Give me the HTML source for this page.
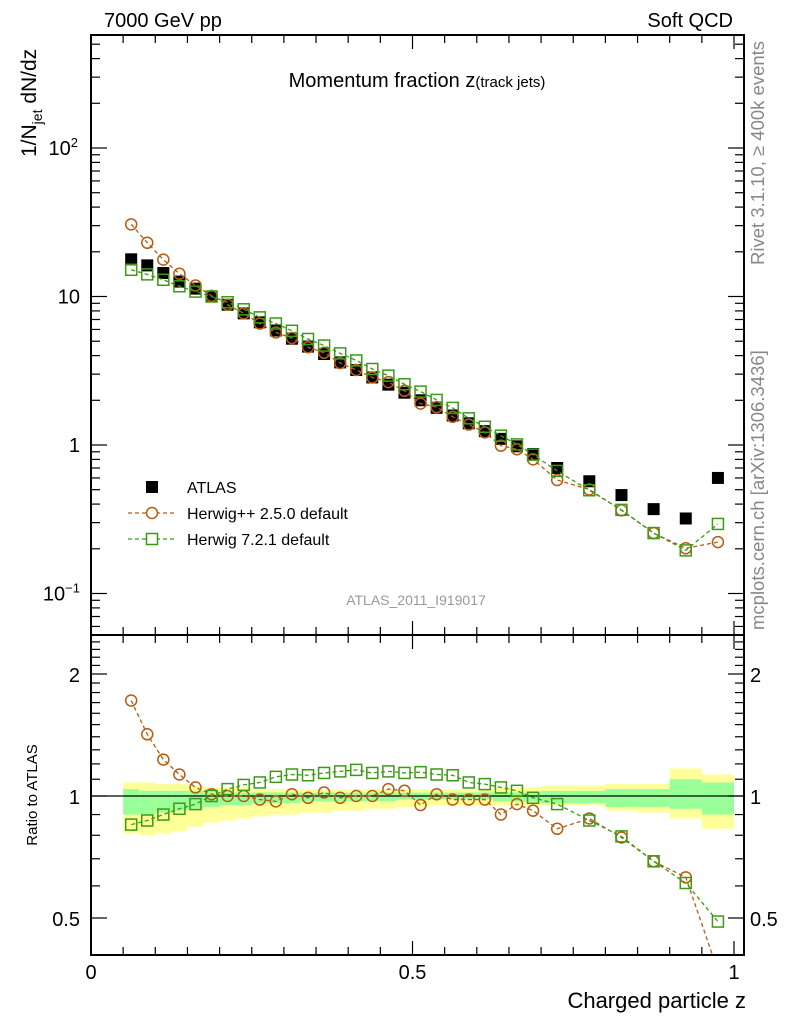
<!DOCTYPE html>
<html><head><meta charset="utf-8"><style>
body{margin:0;background:#fff;}
svg{display:block;font-family:"Liberation Sans",Arial,sans-serif;}
</style></head><body>
<svg id="chart" width="786" height="1024" viewBox="0 0 786 1024" xmlns="http://www.w3.org/2000/svg">
<g id="bands"></g>
<g id="marks"></g>
<g id="axes"></g>
<text x="104" y="27" font-size="20">7000 GeV pp</text>
<text x="733" y="27" font-size="20" text-anchor="end">Soft QCD</text>
<text x="417" y="87" font-size="20" text-anchor="middle">Momentum fraction z<tspan font-size="15">(track jets)</tspan></text>
<text transform="translate(36,157) rotate(-90)" font-size="21">1/N<tspan font-size="14" dy="6">jet</tspan><tspan dy="-6"> dN/dz</tspan></text>
<text transform="translate(37,795) rotate(-90)" font-size="15" text-anchor="middle">Ratio to ATLAS</text>
<text x="746" y="1008" font-size="22" text-anchor="end">Charged particle z</text>
<text transform="translate(764,265) rotate(-90)" font-size="18.5" fill="#888">Rivet 3.1.10, ≥ 400k events</text>
<text transform="translate(764,630) rotate(-90)" font-size="18.5" fill="#888">mcplots.cern.ch [arXiv:1306.3436]</text>
<text x="416" y="605" font-size="14" fill="#999" text-anchor="middle">ATLAS_2011_I919017</text>
<g>
 <rect x="146" y="481" width="12" height="12" fill="#000"/>
 <text x="187" y="493" font-size="16">ATLAS</text>
 <line x1="128" y1="513" x2="177" y2="513" stroke="#b85c10" stroke-width="1.3" stroke-dasharray="4,3"/>
 <circle cx="152" cy="513" r="5.5" fill="#fff" stroke="#b85c10" stroke-width="1.5"/>
 <text x="187" y="519" font-size="16">Herwig++ 2.5.0 default</text>
 <line x1="128" y1="539" x2="177" y2="539" stroke="#3c9a14" stroke-width="1.3" stroke-dasharray="4,3"/>
 <rect x="146.5" y="533.5" width="11" height="11" fill="#fff" stroke="#3c9a14" stroke-width="1.5"/>
 <text x="187" y="545" font-size="16">Herwig 7.2.1 default</text>
</g>
</svg>
<script>
const binEdges=[0.05,0.075,0.1,0.125,0.15,0.175,0.2,0.225,0.25,0.275,0.3,0.325,0.35,0.375,0.4,0.425,0.45,0.475,0.5,0.525,0.55,0.575,0.6,0.625,0.65,0.675,0.7,0.75,0.8,0.85,0.9,0.95,1.0];
const atlas=[17.8,16.2,14.4,12.6,11.3,10.0,8.8,7.7,6.7,5.9,5.2,4.6,4.1,3.6,3.2,2.85,2.55,2.25,2.0,1.78,1.58,1.4,1.24,1.1,0.98,0.87,0.70,0.57,0.46,0.37,0.32,0.60];
const ratioHpp=[1.72,1.42,1.23,1.13,1.05,1.01,1.0,1.0,0.98,0.97,1.01,0.99,1.02,0.99,1.0,1.0,1.04,1.03,0.95,1.01,0.98,0.98,0.98,0.90,0.955,0.92,0.83,0.88,0.79,0.69,0.63,0.37];
const ratioH7=[0.85,0.87,0.90,0.93,0.955,1.0,1.04,1.065,1.08,1.115,1.13,1.125,1.14,1.15,1.16,1.14,1.15,1.14,1.145,1.13,1.125,1.08,1.07,1.05,1.03,0.99,0.955,0.87,0.795,0.69,0.61,0.49];
const outerUp=[1.08,1.08,1.07,1.07,1.06,1.05,1.05,1.05,1.04,1.04,1.04,1.04,1.04,1.04,1.04,1.04,1.04,1.04,1.04,1.04,1.04,1.04,1.04,1.05,1.05,1.05,1.06,1.06,1.07,1.07,1.17,1.13];
const outerDn=[0.81,0.80,0.81,0.82,0.84,0.86,0.87,0.88,0.89,0.90,0.90,0.91,0.91,0.92,0.92,0.93,0.93,0.94,0.94,0.95,0.95,0.95,0.95,0.95,0.95,0.95,0.95,0.95,0.92,0.91,0.88,0.83];
const innerUp=[1.04,1.03,1.03,1.03,1.03,1.02,1.02,1.02,1.02,1.02,1.02,1.02,1.02,1.02,1.02,1.02,1.02,1.02,1.02,1.02,1.02,1.02,1.02,1.02,1.02,1.02,1.03,1.03,1.04,1.04,1.10,1.08];
const innerDn=[0.90,0.90,0.91,0.92,0.93,0.94,0.95,0.95,0.96,0.96,0.96,0.97,0.97,0.97,0.97,0.97,0.97,0.98,0.98,0.98,0.98,0.98,0.98,0.97,0.97,0.97,0.96,0.96,0.94,0.94,0.93,0.90];
const ratioTicks=[0.5,1,2];
const mainTicks=[0.1,1,10,100];

const NS="http://www.w3.org/2000/svg";
const L=91,R=744,T=35,MID=635,B=955;
const X=z=>L+z*643;
const Y=v=>445-Math.log10(v)*148.5;
const RY=r=>796-Math.log2(r)*122;
function mk(tag,attrs,parent){const e=document.createElementNS(NS,tag);for(const k in attrs)e.setAttribute(k,attrs[k]);parent.appendChild(e);return e;}
const gB=document.getElementById('bands'),gM=document.getElementById('marks'),gA=document.getElementById('axes');
const centers=atlas.map((_,i)=>(binEdges[i]+binEdges[i+1])/2);
const hpp=atlas.map((v,i)=>v*ratioHpp[i]);
const h7=atlas.map((v,i)=>v*ratioH7[i]);

atlas.forEach((_,i)=>{
 const x1=X(binEdges[i]),x2=X(binEdges[i+1]);
 const o=mk('rect',{x:x1,y:RY(outerUp[i]),width:x2-x1,height:RY(outerDn[i])-RY(outerUp[i]),fill:'#ffff99'},gB);
 
 
 const n=mk('rect',{x:x1,y:RY(innerUp[i]),width:x2-x1,height:RY(innerDn[i])-RY(innerUp[i]),fill:'#99ff99'},gB);
 
 
});
const one=mk('line',{x1:L,x2:R,y1:RY(1),y2:RY(1),stroke:'#000','stroke-width':1.3},gB);



function series(vals,fy,color,shape,top,bot,nm){
 let pts=centers.map((c,i)=>[X(c),fy(vals[i])]);
 let d='';pts.forEach((p,i)=>{d+=(i?'L':'M')+p[0]+','+p[1];});
 const cp='url(#clip'+(top==T?'M':'R')+')';
 const ln=mk('path',{d:d,fill:'none',stroke:color,'stroke-width':1.3,'stroke-dasharray':'4,3','clip-path':cp},gM);
 
 
 pts.forEach(p=>{
  if(p[1]<top||p[1]>bot)return;
  let e;
  if(shape=='c'){e=mk('circle',{cx:p[0],cy:p[1],r:5.5,fill:'none',stroke:color,'stroke-width':1.5},gM);}
  else{e=mk('rect',{x:p[0]-5.5,y:p[1]-5.5,width:11,height:11,fill:'none',stroke:color,'stroke-width':1.5},gM);}
  
  
 });
}
const defs=mk('defs',{},document.getElementById('chart'));
mk('rect',{x:L,y:T,width:R-L,height:MID-T},mk('clipPath',{id:'clipM'},defs));
mk('rect',{x:L,y:MID,width:R-L,height:B-MID},mk('clipPath',{id:'clipR'},defs));

centers.forEach((c,i)=>{
 const e=mk('rect',{x:X(c)-6,y:Y(atlas[i])-6,width:12,height:12,fill:'#000'},gM);
 
 
});
series(hpp,Y,'#b85c10','c',T,MID,'herwigpp');
series(h7,Y,'#3c9a14','s',T,MID,'herwig7');
series(ratioHpp,RY,'#b85c10','c',MID,B,'herwigpp-ratio');
series(ratioH7,RY,'#3c9a14','s',MID,B,'herwig7-ratio');

[[T,MID],[MID,B]].forEach(([t,b],k)=>{
 const f=mk('rect',{x:L,y:t,width:R-L,height:b-t,fill:'none',stroke:'#000','stroke-width':2},gA);
 
 
 for(let z=0;z<=1.0001;z+=0.05){
  const len=(Math.abs(z*2-Math.round(z*2))<1e-6)?14:8;
  mk('line',{x1:X(z),x2:X(z),y1:b,y2:b-len,stroke:'#000','stroke-width':1.2},gA);
  mk('line',{x1:X(z),x2:X(z),y1:t,y2:t+len,stroke:'#000','stroke-width':1.2},gA);
 }
});
for(let e=-2;e<=2;e++){for(let m=1;m<10;m++){const v=m*Math.pow(10,e);const y=Y(v);if(y<T||y>MID)continue;const len=m==1?16:9;
 mk('line',{x1:L,x2:L+len,y1:y,y2:y,stroke:'#000','stroke-width':1.2},gA);
 mk('line',{x1:R,x2:R-len,y1:y,y2:y,stroke:'#000','stroke-width':1.2},gA);}}
const mlab={0.1:'10<tspan dy="-8" font-size="13">−1</tspan>',1:'1',10:'10',100:'10<tspan dy="-8" font-size="13">2</tspan>'};
mainTicks.forEach(v=>{const sup=(v==0.1||v==100);
 const t=mk('text',{x:sup?(v==100?78:80):80,y:Y(v)+7,'font-size':20,'text-anchor':'end'},gA);
 t.innerHTML=mlab[v];
 
 
});
for(let r=0.4;r<=2.6;r+=0.1){const y=RY(r);if(y<MID||y>B)continue;const maj=ratioTicks.some(q=>Math.abs(q-r)<1e-6);const len=maj?16:9;
 mk('line',{x1:L,x2:L+len,y1:y,y2:y,stroke:'#000','stroke-width':1.2},gA);
 mk('line',{x1:R,x2:R-len,y1:y,y2:y,stroke:'#000','stroke-width':1.2},gA);}
ratioTicks.forEach(r=>{
 const a=mk('text',{x:80,y:RY(r)+8,'font-size':20,'text-anchor':'end'},gA);a.textContent=String(r);
 
 
 const b=mk('text',{x:750,y:RY(r)+8,'font-size':20},gA);b.textContent=String(r);
 
 
});
[0,0.5,1].forEach(z=>{const t=mk('text',{x:X(z),y:979,'font-size':20,'text-anchor':'middle'},gA);t.textContent=String(z);
 
 });
</script>
</body></html>
